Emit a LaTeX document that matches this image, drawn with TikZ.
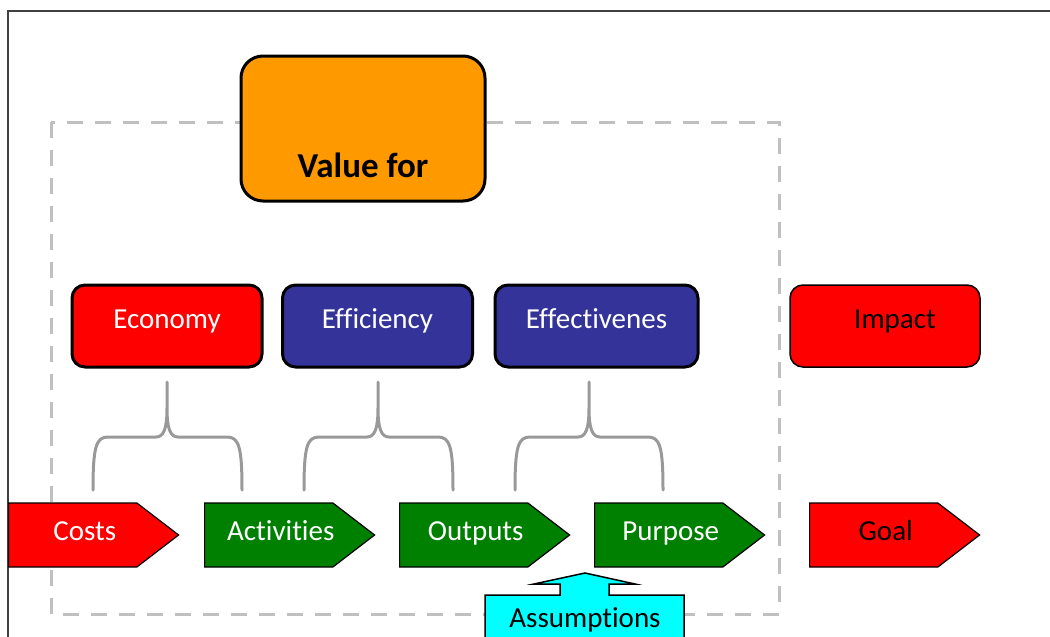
\documentclass[tikz,border=0pt]{standalone}
\usepackage{fontspec}
\setmainfont{Carlito}[Ligatures=CommonOff]
\usetikzlibrary{shapes.symbols}

\definecolor{vfmorange}{HTML}{FF9900}
\definecolor{vfmred}{HTML}{FF0000}
\definecolor{vfmblue}{HTML}{333399}
\definecolor{vfmgreen}{HTML}{008000}
\definecolor{vfmcyan}{HTML}{00FFFF}
\definecolor{dashgray}{HTML}{C0C0C0}
\definecolor{bracegray}{HTML}{999999}
\definecolor{framegray}{HTML}{404040}

\tikzset{
  eebox/.style={draw=black,line width=1.5pt,rounded corners=6.5pt,
    minimum width=95pt,minimum height=41pt,inner sep=0pt,
    text height=0.65em,text depth=0.42em,font=\fontsize{14.5}{17}\selectfont},
  chainarrow/.style={signal,signal to=east,draw=black,line width=0.6pt,
    minimum width=85pt,minimum height=32pt,signal pointer angle=75,
    inner sep=0pt,anchor=west,
    execute at begin node=\hspace*{6pt},execute at end node=\hspace*{-6pt},
    text height=0.65em,text depth=0.14em,font=\fontsize{14.5}{17}\selectfont},
  brace/.style={bracegray,line width=1.5pt,line cap=round},
  dashbox/.style={dashgray,line width=1.5pt,dash pattern=on 8pt off 6pt}
}

\begin{document}
\begin{tikzpicture}[x=0.5pt,y=-0.5pt]
\useasboundingbox (0,0) rectangle (1050,637);
% frame and dashed area
\draw[framegray,line width=1pt] (8,637) -- (8,11) -- (1050,11);
\draw[dashbox] (51,122) rectangle (779,614);

% value box
\node (value) [draw=black,line width=1.5pt,fill=vfmorange,rounded corners=11pt,
  minimum width=122pt,minimum height=72.5pt,
  label={[yshift=-18.5pt,font=\bfseries\fontsize{17.5}{21}\selectfont]center:Value for}]
  at (363,128.5) {};

% the three e's and impact
\node (economy) [eebox,fill=vfmred,text=white] at (167,326) {Economy};
\node (efficiency) [eebox,fill=vfmblue,text=white] at (377.5,326) {Efficiency};
\node (effective) [eebox,fill=vfmblue,text=white,minimum width=101.5pt] at (596.5,326) {Effectivenes};
\node (impact) [eebox,fill=vfmred,line width=0.75pt] at (885,326) {\hspace*{10pt}Impact};

% braces
\foreach \m/\l/\r in {167/93/242, 378/304/453, 589/515/663}
  \draw[brace] (\l,490) .. controls (\l,447) and (\l+3,437) .. (\l+15,437) -- (\m-11,437)
    .. controls (\m-3,437) and (\m,428) .. (\m,408) -- (\m,382)
    (\r,490) .. controls (\r,447) and (\r-3,437) .. (\r-15,437) -- (\m+11,437)
    .. controls (\m+3,437) and (\m,428) .. (\m,408);

% results chain
\node (costs) [chainarrow,fill=vfmred,text=white] at (8,535) {Costs};
\node (activities) [chainarrow,fill=vfmgreen,text=white] at (204,535) {Activities};
\node (outputs) [chainarrow,fill=vfmgreen,text=white] at (399,535) {Outputs};
\node (purpose) [chainarrow,fill=vfmgreen,text=white] at (594,535) {Purpose};
\node (goal) [chainarrow,fill=vfmred] at (809,535) {Goal};

% assumptions
\filldraw[fill=vfmcyan,draw=black,line width=0.75pt] (485,660) -- (485,595) -- (560,595)
  -- (560,584) -- (534,584) -- (585,573) -- (635,584) -- (609,584) -- (609,595)
  -- (684,595) -- (684,660) -- cycle;
\node (assume) [anchor=base,font=\fontsize{14.5}{17}\selectfont] at (585,627) {Assumptions};
\end{tikzpicture}
\end{document}
